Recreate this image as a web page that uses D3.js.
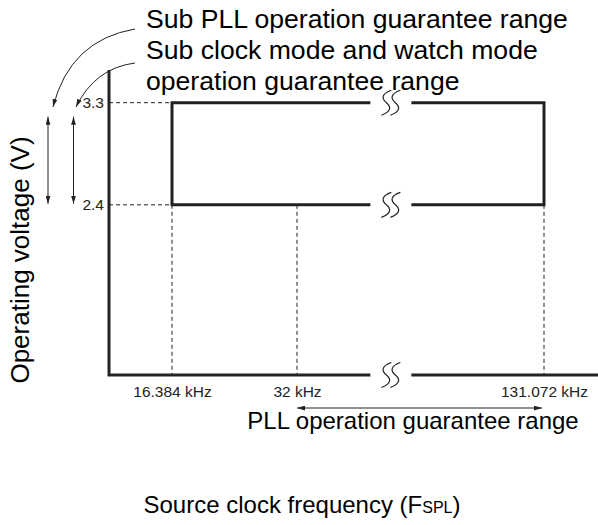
<!DOCTYPE html>
<html lang="en">
<head>
<meta charset="utf-8">
<title>PLL operating range</title>
<script src="https://cdn.jsdelivr.net/npm/d3@7"></script>
<style>
  body { margin: 0; background: #fff; }
  text { font-family: "Liberation Sans", Arial, Helvetica, sans-serif; }
  .tick text { fill: #222; }
</style>
</head>
<body>
<div id="chart"></div>
<script>
// data
var voltages = [2.4, 3.3];
var voltageLabels = ["2.4", "3.3"];
var freqs = [16.384, 32, 131.072];
var freqLabels = ["16.384 kHz", "32 kHz", "131.072 kHz"];
var noteLines = ["Sub PLL operation guarantee range", "Sub clock mode and watch mode", "operation guarantee range"];
var pllLabel = "PLL operation guarantee range";
var yTitle = "Operating voltage (V)";

var width = 598, height = 525;
var ink = "#222";

var svg = d3.select("#chart").append("svg")
  .attr("width", width)
  .attr("height", height);

// markers for arrow heads
var defs = svg.append("defs");
defs.append("marker")
  .attr("id", "head")
  .attr("viewBox", "0 -3 10 6")
  .attr("refX", 10).attr("refY", 0)
  .attr("markerWidth", 8).attr("markerHeight", 5)
  .attr("markerUnits", "userSpaceOnUse")
  .attr("orient", "auto-start-reverse")
  .append("path").attr("d", "M0,-3L10,0L0,3Z").attr("fill", ink);

// scales (broken x axis -> polylinear)
var axisLeft = 109, axisBottom = 375, axisTop = 70;
var x = d3.scaleLinear().domain(freqs).range([172, 297, 544]);
var y = d3.scaleLinear().domain([0.9, 3.3]).range([axisBottom, 102.7]);

var breakX = x(32) + (x(131.072) - x(32)) * 0.38;
var gap = 20.5;

// S-shaped break marks
function breakMark(cx, cy) {
  var g = svg.append("g").attr("transform", "translate(" + cx + "," + cy + ")");
  [-4.5, 4.5].forEach(function(dx) {
    g.append("path")
      .attr("d", "M" + (dx + 5) + ",-12.5 C" + (dx - 5) + ",-9 " + (dx - 5) + ",-4 " + dx + ",0 C" + (dx + 5) + ",4 " + (dx + 5) + ",9 " + (dx - 5) + ",12.5")
      .attr("fill", "none")
      .attr("stroke", ink)
      .attr("stroke-width", 1.2);
  });
}

// dashed guide lines
var dash = svg.append("g")
  .attr("stroke", ink)
  .attr("stroke-width", 1)
  .attr("stroke-dasharray", "4,3");

voltages.forEach(function(v) {
  dash.append("line")
    .attr("x1", axisLeft).attr("x2", x(freqs[0]))
    .attr("y1", y(v)).attr("y2", y(v));
});
freqs.forEach(function(f) {
  dash.append("line")
    .attr("x1", x(f)).attr("x2", x(f))
    .attr("y1", y(2.4)).attr("y2", axisBottom);
});

// operating range box (with break)
var box = svg.append("g")
  .attr("fill", "none")
  .attr("stroke", ink)
  .attr("stroke-width", 3);

box.append("path")
  .attr("d", "M" + (breakX - gap) + "," + y(3.3) + "H" + x(freqs[0]) + "V" + y(2.4) + "H" + (breakX - gap));
box.append("path")
  .attr("d", "M" + (breakX + gap) + "," + y(3.3) + "H" + x(freqs[2]) + "V" + y(2.4) + "H" + (breakX + gap));

// axes
var axes = svg.append("g")
  .attr("fill", "none")
  .attr("stroke", ink)
  .attr("stroke-width", 3);
axes.append("path")
  .attr("d", "M" + axisLeft + "," + axisTop + "V" + axisBottom + "H" + (breakX - gap));
axes.append("path")
  .attr("d", "M" + (breakX + gap) + "," + axisBottom + "H" + width);

breakMark(breakX, y(3.3));
breakMark(breakX, y(2.4));
breakMark(breakX, axisBottom);

// tick labels
svg.append("g")
  .attr("transform", "translate(0," + axisBottom + ")")
  .call(d3.axisBottom(x).tickValues(freqs)
    .tickFormat(function(d, i) { return freqLabels[i]; })
    .tickSize(0).tickPadding(11))
  .call(function(g) { g.select(".domain").remove(); })
  .selectAll("text")
  .style("font-size", "15.5px")
  .style("font-family", "'Liberation Sans', Arial, sans-serif");

svg.append("g")
  .attr("transform", "translate(" + axisLeft + ",0)")
  .call(d3.axisLeft(y).tickValues(voltages)
    .tickFormat(function(d, i) { return voltageLabels[i]; })
    .tickSize(0).tickPadding(5))
  .call(function(g) { g.select(".domain").remove(); })
  .selectAll("text")
  .style("font-size", "15.5px")
  .style("font-family", "'Liberation Sans', Arial, sans-serif");

// voltage range arrows
var arrows = svg.append("g")
  .attr("stroke", ink)
  .attr("stroke-width", 1)
  .attr("fill", "none");

[48, 73.5].forEach(function(ax) {
  arrows.append("line")
    .attr("x1", ax).attr("x2", ax)
    .attr("y1", y(3.3) + 14).attr("y2", y(2.4) - 1)
    .attr("marker-start", "url(#head)")
    .attr("marker-end", "url(#head)");
});

// curved leader arrows from the notes
arrows.append("path")
  .attr("d", "M135,29 Q70,40 53,107")
  .attr("marker-end", "url(#head)");
arrows.append("path")
  .attr("d", "M135,63 Q95,68 76,107")
  .attr("marker-end", "url(#head)");

// PLL range arrow
arrows.append("line")
  .attr("x1", x(32)).attr("x2", x(131.072) - 2)
  .attr("y1", 408).attr("y2", 408)
  .attr("marker-start", "url(#head)")
  .attr("marker-end", "url(#head)");

// notes
svg.append("g").selectAll("text")
  .data(noteLines)
  .enter().append("text")
  .attr("x", 146)
  .attr("y", function(d, i) { return 28 + i * 31; })
  .attr("font-size", 26.6)
  .attr("fill", "#000")
  .text(function(d) { return d; });

svg.append("text")
  .attr("x", 413).attr("y", 429)
  .attr("text-anchor", "middle")
  .attr("font-size", 24)
  .attr("fill", "#000")
  .text(pllLabel);

// axis titles
svg.append("text")
  .attr("transform", "translate(29,260) rotate(-90)")
  .attr("text-anchor", "middle")
  .attr("font-size", 26)
  .attr("fill", "#000")
  .text(yTitle);

var xt = svg.append("text")
  .attr("x", 302).attr("y", 513)
  .attr("text-anchor", "middle")
  .attr("font-size", 24)
  .attr("fill", "#000");
xt.append("tspan").text("Source clock frequency (F");
xt.append("tspan").attr("font-size", 16).text("SPL");
xt.append("tspan").text(")");
</script>
</body>
</html>
